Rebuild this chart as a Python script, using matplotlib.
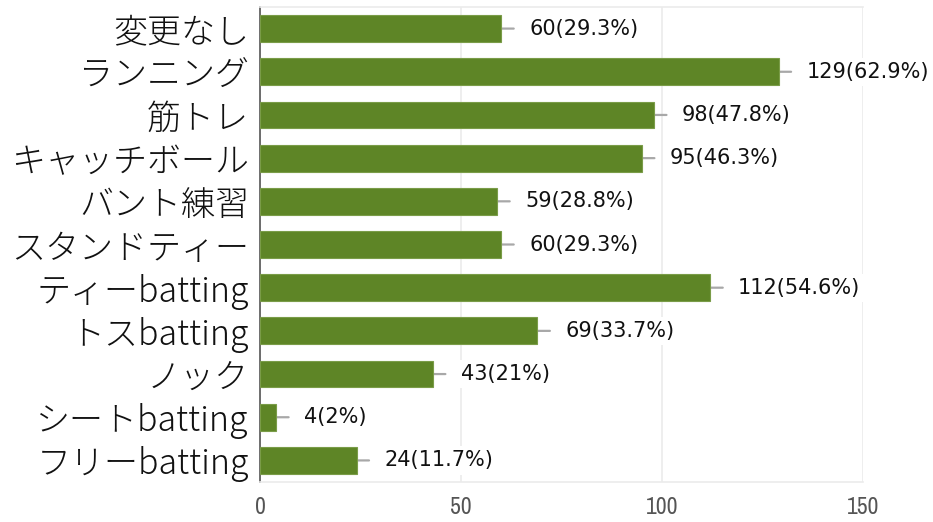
import matplotlib
matplotlib.use('Agg')
import matplotlib.pyplot as plt
from matplotlib import font_manager

# data, top to bottom
categories = ['変更なし', 'ランニング', '筋トレ', 'キャッチボール', 'バント練習',
              'スタンドティー', 'ティーbatting', 'トスbatting', 'ノック',
              'シートbatting', 'フリーbatting']
counts = [60, 129, 98, 95, 59, 60, 112, 69, 43, 4, 24]
percents = ['29.3', '62.9', '47.8', '46.3', '28.8', '29.3', '54.6', '33.7', '21', '2', '11.7']
x_ticks = [0, 50, 100, 150]

plt.rcParams['font.family'] = ['Noto Sans CJK JP', 'DejaVu Sans']

fig = plt.figure(figsize=(9.33, 5.22), dpi=100)
ax = fig.add_axes([0.2787, 0.0766, 0.6463, 0.91])

ypos = list(range(len(categories)))
bar_color = '#5e8526'
ax.barh(ypos, counts, height=0.62, color=bar_color, edgecolor='#7a9c48',
        linewidth=0.8, zorder=3)

# short grey stub at the end of each bar, then the value label
for y, c, p in zip(ypos, counts, percents):
    ax.annotate('', xy=(c, y), xytext=(9, 0), textcoords='offset points',
                arrowprops=dict(arrowstyle='-', color='#a8a8a8', lw=1.6,
                                shrinkA=0, shrinkB=0), zorder=2)
    ax.annotate(f'{c}({p}%)', xy=(c, y), xytext=(20, 0),
                textcoords='offset points', va='center', ha='left',
                fontsize=15, family='DejaVu Sans', color='#111111',
                bbox=dict(boxstyle='square,pad=0.2', fc='white', ec='none'),
                zorder=4)

ax.set_xlim(0, 150)
ax.set_ylim(len(categories) - 0.5, -0.5)
ax.set_yticks(ypos)
ax.set_yticklabels(categories, fontsize=24.5, color='#111111', fontweight='light')
ax.set_xticks(x_ticks)

narrow = [f.name for f in font_manager.fontManager.ttflist if 'Narrow' in f.name]
tick_family = narrow[0] if narrow else 'DejaVu Sans'
ax.set_xticklabels([str(t) for t in x_ticks], fontsize=17, color='#555555',
                   family=tick_family)

ax.tick_params(axis='y', length=0, pad=8)
ax.tick_params(axis='x', length=0, pad=11)

ax.grid(axis='x', color='#ebebeb', linewidth=1.2, zorder=0)
ax.set_axisbelow(True)

ax.spines['right'].set_visible(False)
ax.spines['top'].set_color('#ebebeb')
ax.spines['bottom'].set_color('#ebebeb')
ax.spines['top'].set_linewidth(1.2)
ax.spines['bottom'].set_linewidth(1.2)
ax.spines['left'].set_color('#555555')
ax.spines['left'].set_linewidth(1.2)

fig.savefig('out.png', dpi=100)
